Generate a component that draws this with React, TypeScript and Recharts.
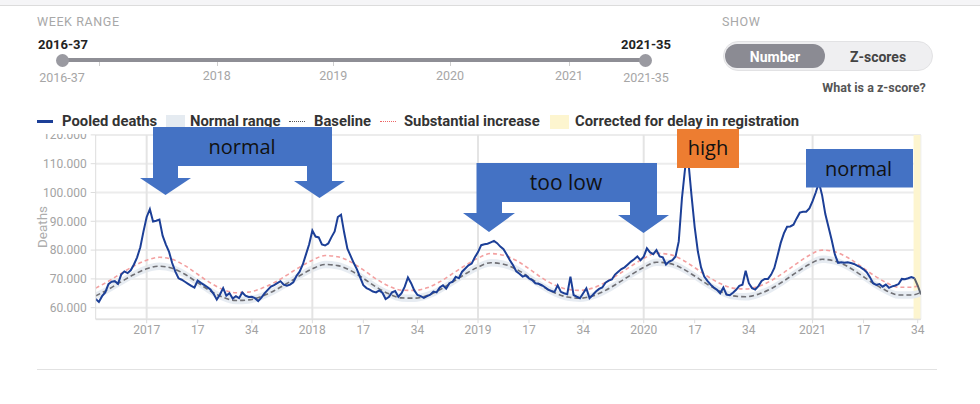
import React from 'react';
import { ComposedChart, Line, Area, XAxis, YAxis, CartesianGrid, ReferenceLine, ReferenceArea } from 'recharts';

// weekly pooled deaths, 2016-37 .. 2021-35 (index 0 = 2016-37)
const pooledDeaths = [
  63000, 62000, 64000, 65300, 68200, 69000, 69200, 68300, 71500, 72600, 72000, 73000, 75000, 77500, 81000, 86500,
  91500, 94200, 89900, 90200, 90600, 85000, 82000, 79500, 75500, 72500, 70200, 69700, 69000, 68300, 67600, 67000,
  69400, 68600, 67900, 67200, 66300, 64800, 62800, 64600, 66800, 64200, 65000, 63200, 64000, 63300, 65300, 64200,
  63700, 63800, 63300, 62300, 63500, 65000, 66200, 67300, 67800, 68500, 69200, 68000, 67600, 68000, 68800, 71000,
  72500, 75000, 78500, 82000, 86800, 84700, 84400, 82000, 81600, 82300, 84500, 86500, 91500, 92300, 86000, 80500,
  78000, 75500, 73300, 70500, 67800, 66800, 66300, 65600, 65300, 66000, 65200, 63000, 63700, 65300, 65800, 63800,
  65000, 67300, 70500, 68500, 66000, 64400, 64000, 63400, 64000, 64500, 65600, 65300, 67000, 67800, 66600, 68500,
  69000, 70700, 70200, 72500, 73600, 74700, 75300, 77500, 79300, 81700, 82000, 82200, 82700, 83200, 82400, 81200,
  80300, 78500, 76500, 74700, 72600, 71800, 70800, 71200, 70200, 69600, 68500, 68300, 67800, 67100, 66300, 65800,
  65500, 67800, 65500, 65000, 64700, 70800, 64400, 63800, 63300, 65000, 66700, 63300, 64400, 65600, 66500, 67000,
  68700, 69400, 69800, 71500, 72500, 73400, 74000, 75000, 76000, 76800, 77800, 76500, 77700, 80600, 79200, 78600,
  80000, 77800, 77500, 75000, 76000, 76500, 77800, 83000, 98000, 108500, 111000, 99000, 88000, 79500, 74000, 70800,
  69300, 68000, 67000, 66200, 65000, 67000, 64500, 64300, 65200, 66200, 67600, 68000, 72800, 68500, 66800, 66300,
  67500, 69300, 70000, 70000, 71500, 73800, 78000, 82500, 85800, 88100, 88200, 88800, 91000, 93000, 93300, 93300,
  94500, 97000, 100000, 103500, 99000, 92500, 88000, 83500, 78500, 75600, 75800, 75600, 75800, 75500, 75200, 74600,
  74100, 73300, 72300, 70600, 68500, 67900, 68200, 67300, 68000, 66900, 67400, 67700, 68200, 70000, 69900, 70200,
  70600, 70200, 67700, 64600,
];

// model curves, sampled every fourth week
const modelWeeks = [
  0, 4, 8, 12, 16, 20, 24, 28, 32, 36, 40, 44, 48, 52, 56, 60, 64, 68, 72, 76, 80, 84, 88, 92, 96, 100, 104, 108,
  112, 116, 120, 124, 128, 132, 136, 140, 144, 148, 152, 156, 160, 164, 168, 172, 176, 180, 184, 188, 192, 196,
  200, 204, 208, 212, 216, 220, 224, 228, 232, 236, 240, 244, 248, 252, 256, 259,
];
const baseline = [
  64100, 66400, 69000, 71500, 73500, 74400, 73700, 71600, 68700, 65800, 63600, 62500, 62700, 63900, 65900, 68400,
  71100, 73500, 75000, 74600, 72900, 70200, 67200, 64800, 63400, 63300, 64200, 66200, 68900, 71700, 74100, 75600,
  75100, 73400, 70600, 67600, 65200, 63700, 63300, 64100, 66000, 68600, 71400, 74000, 75800, 75400, 73700, 71000,
  68100, 65700, 64100, 63800, 64700, 66600, 69300, 72300, 75100, 76800, 76200, 74300, 71500, 68500, 66000, 64400,
  64400, 65300,
];
const rangeLow = [
  62800, 65100, 67700, 70200, 72200, 73100, 72400, 70300, 67400, 64500, 62300, 61200, 61400, 62600, 64600, 67100,
  69800, 72200, 73700, 73300, 71600, 68900, 65900, 63500, 62100, 62000, 62900, 64900, 67600, 70400, 72800, 74300,
  73800, 72100, 69300, 66300, 63900, 62400, 62000, 62800, 64700, 67300, 70100, 72700, 74500, 74100, 72400, 69700,
  66800, 64400, 62800, 62500, 63400, 65300, 68000, 71000, 73800, 75500, 74900, 73000, 70200, 67200, 64700, 63100,
  63100, 64000,
];
const rangeHigh = [
  65400, 67700, 70300, 72800, 74800, 75700, 75000, 72900, 70000, 67100, 64900, 63800, 64000, 65200, 67200, 69700,
  72400, 74800, 76300, 75900, 74200, 71500, 68500, 66100, 64700, 64600, 65500, 67500, 70200, 73000, 75400, 76900,
  76400, 74700, 71900, 68900, 66500, 65000, 64600, 65400, 67300, 69900, 72700, 75300, 77100, 76700, 75000, 72300,
  69400, 67000, 65400, 65100, 66000, 67900, 70600, 73600, 76400, 78100, 77500, 75600, 72800, 69800, 67300, 65700,
  65700, 66600,
];
const substantial = [
  66800, 69200, 71900, 74500, 76500, 77500, 76800, 74600, 71600, 68600, 66300, 65200, 65400, 66700, 68700, 71300,
  74100, 76500, 78100, 77700, 75900, 73100, 70000, 67500, 66100, 66000, 66900, 69000, 71800, 74700, 77200, 78800,
  78200, 76400, 73500, 70400, 67900, 66400, 66000, 66800, 68800, 71500, 74400, 77100, 78900, 78500, 76700, 73900,
  70900, 68400, 66800, 66500, 67400, 69400, 72200, 75300, 78200, 80000, 79400, 77400, 74500, 71400, 68800, 67100,
  67100, 68000,
];

const tickWeeks = [16, 32, 49, 68, 84, 101, 120, 136, 153, 172, 188, 205, 225, 241, 258];
const tickLabels = ['2017', '17', '34', '2018', '17', '34', '2019', '17', '34', '2020', '17', '34', '2021', '17', '34'];
const yearWeeks = [16, 68, 120, 172, 225];
const yTicks = [60000, 70000, 80000, 90000, 100000, 110000, 120000];
const CORRECTED_FROM = 257;

const rows = pooledDeaths.map((v, i) => {
  const k = modelWeeks.indexOf(i);
  return {
    week: i,
    deaths: i <= CORRECTED_FROM ? v : null,
    corrected: i >= CORRECTED_FROM ? v : null,
    baseline: k >= 0 ? baseline[k] : null,
    range: k >= 0 ? [rangeLow[k], rangeHigh[k]] : null,
    substantial: k >= 0 ? substantial[k] : null,
  };
});

const fmtThousands = (v: number) => `${Math.round(v / 1000)}.000`;
const fmtWeek = (v: number) => tickLabels[tickWeeks.indexOf(v)] ?? '';

const BLUE = '#4472C4';
const legendText: React.CSSProperties = { position: 'absolute', top: 112, fontSize: 14.8, lineHeight: '18px', fontWeight: 700, color: '#333', whiteSpace: 'nowrap' };
const calloutText: React.CSSProperties = { position: 'absolute', fontFamily: '"Open Sans", sans-serif', fontSize: 20, color: '#111', transform: 'translate(-50%, -50%)', whiteSpace: 'nowrap' };
const grayLabel: React.CSSProperties = { position: 'absolute', fontSize: 12.5, color: '#a6a6a6', transform: 'translate(-50%, -50%)', whiteSpace: 'nowrap' };

export default function App() {
  return (
    <div style={{ position: 'absolute', left: 0, top: 0, width: 980, height: 404, background: '#fff', fontFamily: 'Roboto, sans-serif', overflow: 'hidden' }}>
      <div style={{ position: 'absolute', left: 0, top: 0, width: 980, height: 5, background: '#f5f5f7', borderBottom: '1px solid #dcdcdc' }} />

      {/* week range slider */}
      <div style={{ position: 'absolute', left: 37, top: 14, fontSize: 12.5, color: '#a8a8a8', letterSpacing: 0.6 }}>WEEK RANGE</div>
      <div style={{ ...grayLabel, left: 63, top: 44, color: '#222', fontWeight: 700, fontSize: 13 }}>2016-37</div>
      <div style={{ ...grayLabel, left: 646, top: 44, color: '#222', fontWeight: 700, fontSize: 13 }}>2021-35</div>
      <div style={{ position: 'absolute', left: 62, top: 58, width: 583, height: 4, background: '#8e8e95', borderRadius: 2 }} />
      {[99, 216.7, 333.3, 450, 569].map((x) => (
        <div key={x} style={{ position: 'absolute', left: x, top: 62, width: 1, height: 4, background: '#cfcfcf' }} />
      ))}
      <div style={{ position: 'absolute', left: 55.5, top: 53.5, width: 13, height: 13, borderRadius: 7, background: '#9a9aa1' }} />
      <div style={{ position: 'absolute', left: 638.5, top: 53.5, width: 13, height: 13, borderRadius: 7, background: '#9a9aa1' }} />
      <div style={{ ...grayLabel, left: 62, top: 77 }}>2016-37</div>
      <div style={{ ...grayLabel, left: 216.7, top: 75 }}>2018</div>
      <div style={{ ...grayLabel, left: 333.3, top: 75 }}>2019</div>
      <div style={{ ...grayLabel, left: 450, top: 75 }}>2020</div>
      <div style={{ ...grayLabel, left: 569, top: 75 }}>2021</div>
      <div style={{ ...grayLabel, left: 646, top: 77 }}>2021-35</div>

      {/* show toggle */}
      <div style={{ position: 'absolute', left: 722, top: 14, fontSize: 12.5, color: '#a8a8a8', letterSpacing: 0.6 }}>SHOW</div>
      <div style={{ position: 'absolute', left: 723, top: 41, width: 208, height: 28, borderRadius: 15, background: '#efeff1', border: '1px solid #e2e2e4' }} />
      <div style={{ position: 'absolute', left: 725, top: 44, width: 100, height: 24, borderRadius: 12, background: '#8b8b93' }} />
      <div style={{ ...grayLabel, left: 775, top: 56.5, color: '#fff', fontWeight: 700, fontSize: 14 }}>Number</div>
      <div style={{ ...grayLabel, left: 878, top: 56.5, color: '#444', fontWeight: 700, fontSize: 14 }}>Z-scores</div>
      <div style={{ ...grayLabel, left: 874, top: 87, color: '#555', fontWeight: 700, fontSize: 12.5 }}>What is a z-score?</div>

      {/* chart */}
      <div style={{ position: 'absolute', left: 0, top: 100 }}>
        <ComposedChart width={980} height={260} data={rows} margin={{ top: 34.9, right: 59.1, left: 35.7, bottom: 10.8 }}>
          <CartesianGrid vertical={false} stroke="#ececec" strokeWidth={2} />
          {yearWeeks.map((w) => (
            <ReferenceLine key={w} x={w} stroke="#e4e4e4" strokeWidth={2} />
          ))}
          <ReferenceLine x={259} stroke="#eeeeee" strokeWidth={1} />
          <ReferenceArea x1={256.7} x2={259} fill="#fdf5cf" fillOpacity={1} stroke="none" />
          <XAxis
            dataKey="week"
            type="number"
            domain={[0, 259]}
            ticks={tickWeeks}
            tickFormatter={fmtWeek}
            interval={0}
            height={30}
            stroke="#dddddd"
            tickSize={4}
            tick={{ fill: '#a3a3a3', fontSize: 12 }}
            allowDataOverflow
          />
          <YAxis
            type="number"
            domain={[56000, 120000]}
            ticks={yTicks}
            tickFormatter={fmtThousands}
            width={60}
            stroke="#dddddd"
            tickSize={5}
            tickMargin={4}
            tick={{ fill: '#a3a3a3', fontSize: 12 }}
            allowDataOverflow
          />
          <Area dataKey="range" type="monotone" fill="#e6ebf1" fillOpacity={0.95} stroke="none" connectNulls isAnimationActive={false} />
          <Line dataKey="substantial" type="monotone" stroke="#f3a0a0" strokeWidth={1.6} strokeDasharray="4 3" dot={false} connectNulls isAnimationActive={false} />
          <Line dataKey="baseline" type="monotone" stroke="#707075" strokeWidth={1.6} strokeDasharray="5 3" dot={false} connectNulls isAnimationActive={false} />
          <Line dataKey="deaths" type="linear" stroke="#1c3f97" strokeWidth={2} dot={false} isAnimationActive={false} />
          <Line dataKey="corrected" type="linear" stroke="#5a5f6a" strokeWidth={2} dot={false} isAnimationActive={false} />
        </ComposedChart>
      </div>
      <div style={{ position: 'absolute', left: 41.7, top: 226.7, transform: 'translate(-50%, -50%) rotate(-90deg)', fontSize: 13.5, color: '#adadad' }}>Deaths</div>

      {/* legend */}
      <div style={{ position: 'absolute', left: 30, top: 108, width: 900, height: 26, background: '#fff' }} />
      <div style={{ position: 'absolute', left: 37, top: 120, width: 16, height: 3, background: '#1c3f97' }} />
      <div style={{ ...legendText, left: 62 }}>Pooled deaths</div>
      <div style={{ position: 'absolute', left: 166, top: 115, width: 19, height: 14, background: '#e5ebf1' }} />
      <div style={{ ...legendText, left: 190 }}>Normal range</div>
      <div style={{ position: 'absolute', left: 289, top: 121, width: 16, height: 0, borderTop: '1.5px dotted #555' }} />
      <div style={{ ...legendText, left: 314 }}>Baseline</div>
      <div style={{ position: 'absolute', left: 380, top: 121, width: 16, height: 0, borderTop: '1.5px dotted #e66' }} />
      <div style={{ ...legendText, left: 404 }}>Substantial increase</div>
      <div style={{ position: 'absolute', left: 550, top: 115, width: 19, height: 14, background: '#fdf5cf' }} />
      <div style={{ ...legendText, left: 575 }}>Corrected for delay in registration</div>

      {/* pasted callouts */}
      <svg width={980} height={404} style={{ position: 'absolute', left: 0, top: 0 }}>
        <polygon
          fill={BLUE}
          points="153,127 332,127 332,181 345,181 319.5,198 294,181 307,181 307,166 178,166 178,178 191,178 165.5,195 140,178 153,178"
        />
        <polygon
          fill={BLUE}
          points="476.5,163 657,163 657,215 669,215 643.5,233 618,215 630,215 630,202 502,202 502,213 515,213 489,232 463,213 476.5,213"
        />
        <rect x={677} y={129} width={62} height={39} fill="#ED7D31" />
        <rect x={806} y={149} width={107} height={38.5} fill={BLUE} />
      </svg>
      <div style={{ ...calloutText, left: 242, top: 146 }}>normal</div>
      <div style={{ ...calloutText, left: 566, top: 182, fontSize: 21 }}>too low</div>
      <div style={{ ...calloutText, left: 708, top: 147 }}>high</div>
      <div style={{ ...calloutText, left: 858.5, top: 167.5 }}>normal</div>

      <div style={{ position: 'absolute', left: 37, top: 369, width: 900, height: 1, background: '#e2e2e2' }} />
    </div>
  );
}
